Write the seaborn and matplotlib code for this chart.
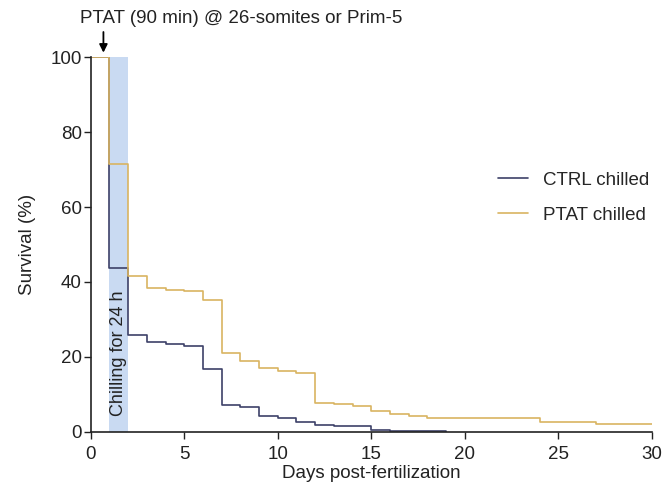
import numpy as np
import pandas as pd
import seaborn as sns
import matplotlib.pyplot as plt

# Kaplan-Meier style survival curves (step change points)
ctrl_days = [0, 1, 2, 3, 4, 5, 6, 7, 8, 9, 10, 11, 12, 13, 15, 16, 19]
ctrl_surv = [100, 43.8, 25.8, 24.0, 23.5, 22.9, 16.7, 7.1, 6.7, 4.2, 3.6, 2.7, 1.8, 1.6, 0.6, 0.3, 0.0]
ptat_days = [0, 1, 2, 3, 4, 5, 6, 7, 8, 9, 10, 11, 12, 13, 14, 15, 16, 17, 18, 20, 24, 27, 30]
ptat_surv = [100, 71.4, 41.7, 38.3, 37.9, 37.5, 35.2, 20.9, 19.0, 16.9, 16.3, 15.6, 7.8, 7.4, 7.0, 5.6, 4.7,
             4.3, 3.8, 3.6, 2.7, 2.2, 2.2]
groups = ["CTRL chilled", "PTAT chilled"]
colors = ["#3d4168", "#d9b461"]

df = pd.concat([
    pd.DataFrame({"day": ctrl_days, "surv": ctrl_surv, "group": groups[0]}),
    pd.DataFrame({"day": ptat_days, "surv": ptat_surv, "group": groups[1]}),
])

sns.set_style("ticks")
plt.rcParams['font.family'] = ['Liberation Sans', 'DejaVu Sans']
fs = 13.5
tc = "#222222"

fig = plt.figure(figsize=(6.64, 4.94), dpi=100)
ax = fig.add_axes([0.1366, 0.126, 0.845, 0.758])

# chilling window
ax.axvspan(1, 2, color="#c9daf2", zorder=0, lw=0)
ax.text(1.5, 21, "Chilling for 24 h", rotation=90, ha="center", va="center", fontsize=13, color=tc)

sns.lineplot(data=df, x="day", y="surv", hue="group", palette=colors, drawstyle="steps-post",
             estimator=None, lw=1.2, ax=ax)

ax.set_xlim(0, 30)
ax.set_ylim(0, 100)
ax.set_xticks(range(0, 31, 5))
ax.set_yticks(range(0, 101, 20))
ax.tick_params(labelsize=fs, length=5, width=1, direction="out", colors=tc)
ax.tick_params(axis="y", pad=1.5)
ax.tick_params(axis="x", pad=5)
for s in ["left", "bottom"]:
    ax.spines[s].set_linewidth(1.2)
    ax.spines[s].set_color(tc)
sns.despine(ax=ax)
ax.set_xlabel("Days post-fertilization", fontsize=fs, color=tc, labelpad=2)
ax.set_ylabel("Survival (%)", fontsize=fs, color=tc, labelpad=10)

leg = ax.legend(loc="upper left", bbox_to_anchor=(0.695, 0.74), frameon=False, fontsize=fs,
                handlelength=1.6, handletextpad=0.85, labelspacing=0.95)
for line in leg.get_lines():
    line.set_linewidth(1.2)

ax.annotate("", xy=(0.68, 100.5), xytext=(0.68, 107.5), annotation_clip=False,
            arrowprops=dict(arrowstyle="-|>", color="black", lw=1.3, mutation_scale=12))
fig.text(0.121, 0.963, "PTAT (90 min) @ 26-somites or Prim-5", fontsize=fs, color=tc, va="center")

fig.savefig("out.png", dpi=100)
